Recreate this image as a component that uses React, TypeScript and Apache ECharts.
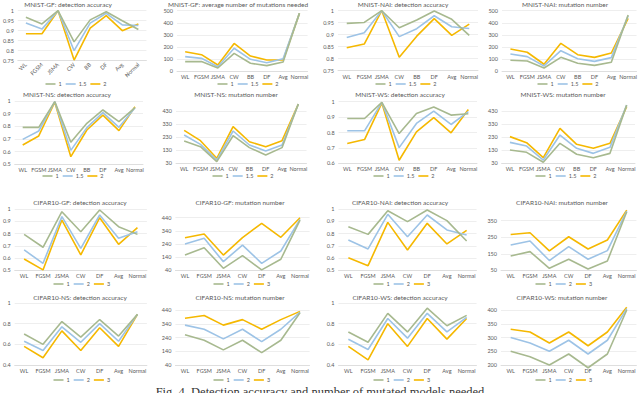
import React, { useEffect, useRef } from "react";
import * as echarts from "echarts";

// ---------- categories & legends ----------
const MNIST_CATS = ["WL", "FGSM", "JSMA", "CW", "BB", "DF", "Avg", "Normal"];
const CIFAR_CATS = ["WL", "FGSM", "JSMA", "CW", "DF", "Avg", "Normal"];
const MNIST_LEGEND = ["1", "1.5", "2"];
const CIFAR_LEGEND = ["1", "2", "3"];

// ---------- data (one row per legend entry) ----------
const mnistGfAccuracy = [
  [0.967, 0.934, 1, 0.844, 0.954, 0.995, 0.95, 0.906],
  [0.938, 0.908, 1, 0.8, 0.938, 0.987, 0.929, 0.926],
  [0.885, 0.885, 1, 0.753, 0.913, 0.975, 0.9, 0.934],
];
const mnistGfMutations = [
  [80, 80, 27, 148, 66, 47, 77, 478],
  [121, 107, 38, 190, 99, 71, 103, 478],
  [162, 137, 52, 230, 126, 93, 93, 478],
];
const mnistNaiAccuracy = [
  [0.947, 0.951, 1, 0.929, 0.961, 0.999, 0.964, 0.897],
  [0.888, 0.908, 1, 0.892, 0.925, 0.979, 0.933, 0.926],
  [0.846, 0.861, 1, 0.806, 0.894, 0.967, 0.897, 0.944],
];
const mnistNaiMutations = [
  [91, 85, 27, 115, 66, 49, 74, 464],
  [143, 121, 44, 170, 104, 82, 113, 458],
  [184, 157, 58, 231, 137, 115, 151, 437],
];
const mnistNsAccuracy = [
  [0.792, 0.792, 0.995, 0.674, 0.824, 0.929, 0.837, 0.947],
  [0.697, 0.763, 0.995, 0.61, 0.79, 0.908, 0.792, 0.947],
  [0.653, 0.724, 0.99, 0.56, 0.771, 0.889, 0.766, 0.955],
];
const mnistNsMutations = [
  [200, 157, 43, 241, 150, 94, 150, 483],
  [246, 175, 55, 277, 170, 124, 170, 483],
  [282, 203, 68, 310, 195, 157, 203, 483],
];
const mnistWsAccuracy = [
  [0.891, 0.891, 0.996, 0.793, 0.924, 0.965, 0.913, 0.922],
  [0.811, 0.811, 0.996, 0.702, 0.859, 0.939, 0.852, 0.935],
  [0.728, 0.754, 0.991, 0.62, 0.804, 0.896, 0.798, 0.95],
];
const mnistWsMutations = [
  [132, 114, 38, 183, 99, 73, 106, 475],
  [190, 162, 55, 246, 145, 106, 152, 475],
  [234, 188, 73, 297, 175, 145, 183, 463],
];
const cifarGfAccuracy = [
  [0.793, 0.688, 0.978, 0.815, 0.992, 0.856, 0.793],
  [0.666, 0.557, 0.938, 0.679, 0.951, 0.761, 0.815],
  [0.592, 0.503, 0.91, 0.625, 0.929, 0.712, 0.848],
];
const cifarGfMutations = [
  [156, 212, 55, 151, 43, 124, 422],
  [240, 283, 106, 232, 93, 187, 427],
  [288, 316, 156, 288, 397, 291, 440],
];
const cifarNaiAccuracy = [
  [0.856, 0.793, 0.986, 0.897, 0.992, 0.905, 0.739],
  [0.747, 0.674, 0.957, 0.774, 0.951, 0.829, 0.788],
  [0.603, 0.538, 0.891, 0.666, 0.883, 0.715, 0.826],
];
const cifarNaiMutations = [
  [137, 163, 62, 117, 58, 106, 404],
  [203, 227, 109, 193, 117, 169, 408],
  [267, 277, 167, 253, 179, 233, 414],
];
const cifarNsAccuracy = [
  [0.7, 0.6, 0.82, 0.67, 0.84, 0.68, 0.89],
  [0.63, 0.54, 0.77, 0.62, 0.8, 0.63, 0.89],
  [0.58, 0.47, 0.73, 0.54, 0.76, 0.58, 0.89],
];
const cifarNsMutations = [
  [260, 220, 150, 220, 130, 220, 420],
  [330, 300, 230, 300, 210, 300, 425],
  [380, 400, 330, 370, 300, 370, 430],
];
const cifarWsAccuracy = [
  [0.72, 0.62, 0.9, 0.72, 0.95, 0.78, 0.88],
  [0.65, 0.55, 0.85, 0.66, 0.9, 0.72, 0.86],
  [0.58, 0.45, 0.8, 0.58, 0.85, 0.65, 0.85],
];
const cifarWsMutations = [
  [250, 230, 200, 240, 190, 240, 400],
  [300, 280, 250, 290, 240, 290, 405],
  [330, 320, 280, 320, 270, 320, 410],
];

const COLORS = ["#a7b98f", "#9dc3e6", "#f5b800"];
const TEXT = "#595959";
const FONT = "Lato";

type Panel = {
  title: string;
  cats: string[];
  names: string[];
  data: number[][];
  yMin: number;
  yMax: number;
  yInterval: number;
  box: [number, number, number, number];
  titleAt: [number, number];
  legendAt: [number, number];
  rotate?: number;
};

const topPanels: Panel[] = [
  { title: "MNIST-GF: detection accuracy", cats: MNIST_CATS, names: MNIST_LEGEND, data: mnistGfAccuracy, yMin: 0.75, yMax: 1, yInterval: 0.05, box: [12.3, 146.4, 10.7, 60.7], titleAt: [68, 4], legendAt: [75, 84], rotate: 45 },
  { title: "MNIST-GF: average number of mutations needed", cats: MNIST_CATS, names: MNIST_LEGEND, data: mnistGfMutations, yMin: 0, yMax: 500, yInterval: 100, box: [177, 307.6, 10.7, 71.3], titleAt: [238, 4], legendAt: [247, 84] },
  { title: "MNIST-NAI: detection accuracy", cats: MNIST_CATS, names: MNIST_LEGEND, data: mnistNaiAccuracy, yMin: 0.75, yMax: 1, yInterval: 0.05, box: [338, 478, 10.7, 70.7], titleAt: [403, 4], legendAt: [405, 84] },
  { title: "MNIST-NAI: mutation number", cats: MNIST_CATS, names: MNIST_LEGEND, data: mnistNaiMutations, yMin: 0, yMax: 500, yInterval: 100, box: [502, 637, 10.7, 71.3], titleAt: [565, 4], legendAt: [567, 84] },
  { title: "MNIST-NS: detection accuracy", cats: MNIST_CATS, names: MNIST_LEGEND, data: mnistNsAccuracy, yMin: 0.5, yMax: 1, yInterval: 0.1, box: [13.6, 143, 101, 164.3], titleAt: [67, 94], legendAt: [72, 176] },
  { title: "MNIST-NS: mutation number", cats: MNIST_CATS, names: MNIST_LEGEND, data: mnistNsMutations, yMin: 30, yMax: 430, yInterval: 100, box: [176, 306.5, 111, 163.3], titleAt: [236, 94], legendAt: [242, 176] },
  { title: "MNIST-WS: detection accuracy", cats: MNIST_CATS, names: MNIST_LEGEND, data: mnistWsAccuracy, yMin: 0.6, yMax: 1, yInterval: 0.1, box: [338.6, 477, 101.7, 163.3], titleAt: [400, 94], legendAt: [403, 176] },
  { title: "MNIST-WS: mutation number", cats: MNIST_CATS, names: MNIST_LEGEND, data: mnistWsMutations, yMin: 30, yMax: 430, yInterval: 100, box: [501.6, 635, 111, 163.3], titleAt: [563, 94], legendAt: [565, 176] },
];

const bottomPanels: Panel[] = [
  { title: "CIFAR10-GF: detection accuracy", cats: CIFAR_CATS, names: CIFAR_LEGEND, data: cifarGfAccuracy, yMin: 0.5, yMax: 1, yInterval: 0.1, box: [12.7, 146.9, 209, 270.3], titleAt: [80, 202], legendAt: [80, 284] },
  { title: "CIFAR10-GF: mutation number", cats: CIFAR_CATS, names: CIFAR_LEGEND, data: cifarGfMutations, yMin: 40, yMax: 440, yInterval: 100, box: [175.4, 309.6, 217.7, 270.3], titleAt: [240, 202], legendAt: [240, 284] },
  { title: "CIFAR10-NAI: detection accuracy", cats: CIFAR_CATS, names: CIFAR_LEGEND, data: cifarNaiAccuracy, yMin: 0.5, yMax: 1, yInterval: 0.1, box: [338.5, 476.5, 209, 270.3], titleAt: [400, 202], legendAt: [400, 284] },
  { title: "CIFAR10-NAI: mutation number", cats: CIFAR_CATS, names: CIFAR_LEGEND, data: cifarNaiMutations, yMin: 50, yMax: 350, yInterval: 100, box: [501, 636.4, 220.7, 270.3], titleAt: [562, 202], legendAt: [562, 284] },
  { title: "CIFAR10-NS: detection accuracy", cats: CIFAR_CATS, names: CIFAR_LEGEND, data: cifarNsAccuracy, yMin: 0.4, yMax: 1, yInterval: 0.2, box: [12.7, 146.9, 303, 365], titleAt: [80, 297], legendAt: [80, 380] },
  { title: "CIFAR10-NS: mutation number", cats: CIFAR_CATS, names: CIFAR_LEGEND, data: cifarNsMutations, yMin: 40, yMax: 440, yInterval: 100, box: [175.4, 309.6, 310, 365], titleAt: [240, 297], legendAt: [240, 380] },
  { title: "CIFAR10-WS: detection accuracy", cats: CIFAR_CATS, names: CIFAR_LEGEND, data: cifarWsAccuracy, yMin: 0.4, yMax: 1, yInterval: 0.2, box: [338.5, 476.5, 303, 365], titleAt: [400, 297], legendAt: [400, 380] },
  { title: "CIFAR10-WS: mutation number", cats: CIFAR_CATS, names: CIFAR_LEGEND, data: cifarWsMutations, yMin: 200, yMax: 400, yInterval: 50, box: [501, 636.4, 310, 365], titleAt: [562, 297], legendAt: [562, 380] },
];

function buildOption(panels: Panel[], offsetY: number, caption?: string) {
  const grid: any[] = [];
  const xAxis: any[] = [];
  const yAxis: any[] = [];
  const series: any[] = [];
  const legend: any[] = [];
  const graphic: any[] = [];
  panels.forEach((p, i) => {
    const [x0, x1, yt, yb] = p.box;
    grid.push({ left: x0, top: yt - offsetY, width: x1 - x0, height: yb - yt, containLabel: false });
    xAxis.push({
      type: "category",
      gridIndex: i,
      data: p.cats,
      boundaryGap: true,
      axisLine: { lineStyle: { color: "#d9d9d9", width: 0.8 } },
      axisTick: { show: false },
      axisLabel: { interval: 0, fontSize: 5.5, color: TEXT, fontFamily: FONT, margin: 3, rotate: p.rotate || 0 },
    });
    yAxis.push({
      type: "value",
      gridIndex: i,
      min: p.yMin,
      max: p.yMax,
      interval: p.yInterval,
      axisLine: { show: false },
      axisTick: { show: false },
      splitLine: { lineStyle: { color: "#e3e3e3", width: 0.6 } },
      axisLabel: { fontSize: 5.5, color: TEXT, fontFamily: FONT, margin: 4 },
    });
    p.data.forEach((vals, k) => {
      series.push({
        type: "line",
        name: p.names[k],
        xAxisIndex: i,
        yAxisIndex: i,
        data: vals,
        symbol: "none",
        clip: false,
        lineStyle: { color: COLORS[k], width: 1.6 },
        itemStyle: { color: COLORS[k] },
        z: 10 - k,
      });
    });
    const legendW = p.names.reduce((s, n) => s + 12 + n.length * 3, 0) + 8;
    legend.push({
      data: p.names,
      left: p.legendAt[0] - legendW / 2,
      top: p.legendAt[1] - offsetY - 3,
      icon: "rect",
      itemWidth: 10,
      itemHeight: 1.6,
      itemGap: 4,
      padding: 0,
      selectedMode: false,
      textStyle: { fontSize: 5.5, color: TEXT, fontFamily: FONT, padding: [0, 0, 0, -2] },
    });
    graphic.push({
      type: "text",
      x: p.titleAt[0],
      y: p.titleAt[1] - offsetY,
      style: { text: p.title, fill: TEXT, font: `6.5px ${FONT}`, align: "center", verticalAlign: "middle" },
    });
  });
  if (caption) {
    graphic.push({
      type: "text",
      x: 320,
      y: 385 - offsetY,
      style: { text: caption, fill: "#333", font: "12.5px 'Liberation Serif'", align: "center", verticalAlign: "top" },
    });
  }
  return { animation: false, backgroundColor: "#fff", grid, xAxis, yAxis, series, legend, graphic };
}

function Chart({ panels, offsetY, height, caption }: { panels: Panel[]; offsetY: number; height: number; caption?: string }) {
  const ref = useRef<HTMLDivElement>(null);
  useEffect(() => {
    if (!ref.current) return;
    const chart = echarts.init(ref.current, undefined, { renderer: "svg" });
    chart.setOption(buildOption(panels, offsetY, caption) as any);
    return () => chart.dispose();
  }, []);
  return <div ref={ref} style={{ position: "absolute", left: 0, top: offsetY, width: 640, height }} />;
}

export default function App() {
  return (
    <div style={{ position: "absolute", left: 0, top: 0, width: 640, height: 393, overflow: "hidden", background: "#fff" }}>
      <Chart panels={topPanels} offsetY={0} height={195} />
      <Chart panels={bottomPanels} offsetY={195} height={198} caption="Fig. 4. Detection accuracy and number of mutated models needed" />
    </div>
  );
}
